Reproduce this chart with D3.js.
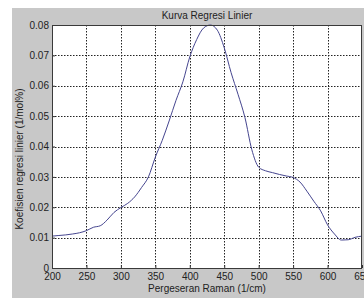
<!DOCTYPE html>
<html>
<head>
<meta charset="utf-8">
<script src="https://cdn.jsdelivr.net/npm/d3@7"></script>
<style>
  body { margin: 0; background: #fff; }
  svg { display: block; font-family: "Liberation Sans", Arial, sans-serif; }
</style>
</head>
<body>
<div id="chart"></div>
<script>
// Raman shift (1/cm) and regression coefficient
const shift = [200, 210, 220, 230, 240, 250, 260, 270, 280, 290,
  300, 310, 320, 330, 340, 350, 360, 370, 380, 390,
  400, 410, 420, 430, 440, 450, 460, 470, 480, 490,
  500, 510, 520, 530, 540, 550, 560, 570, 580, 590,
  600, 610, 620, 630, 640, 650];
const koef = [0.0105, 0.0107, 0.0109, 0.0112, 0.0116, 0.0123, 0.0134, 0.0139, 0.0158, 0.0183,
  0.0199, 0.0213, 0.0234, 0.0265, 0.0300, 0.0365, 0.0420, 0.0484, 0.0552, 0.0613,
  0.0695, 0.0752, 0.0790, 0.0800, 0.0783, 0.0725, 0.0643, 0.0572, 0.0496, 0.0390,
  0.0332, 0.0320, 0.0314, 0.0308, 0.0303, 0.0298, 0.0283, 0.0253, 0.0220, 0.0188,
  0.0142, 0.0112, 0.0092, 0.0093, 0.0101, 0.0105];
const xTicks = [200, 250, 300, 350, 400, 450, 500, 550, 600, 650];
const yTicks = [0, 0.01, 0.02, 0.03, 0.04, 0.05, 0.06, 0.07, 0.08];
const title = "Kurva Regresi Linier";
const xLabel = "Pergeseran Raman (1/cm)";
const yLabel = "Koefisien regresi linier (1/mol%)";

const width = 364, height = 298;
const m = {left: 52, top: 25, right: 362, bottom: 268};

const svg = d3.select("#chart").append("svg")
  .attr("width", width)
  .attr("height", height);

// grey figure background
svg.append("rect")
  .attr("x", 12).attr("y", 8)
  .attr("width", width - 12).attr("height", height - 8)
  .attr("fill", "#c8c8c8");

const x = d3.scaleLinear().domain([200, 650]).range([m.left, m.right]);
const y = d3.scaleLinear().domain([0, 0.08]).range([m.bottom, m.top]);

svg.append("rect")
  .attr("x", m.left).attr("y", m.top)
  .attr("width", m.right - m.left).attr("height", m.bottom - m.top)
  .attr("fill", "#fff");

// dotted grid
const grid = svg.append("g")
  .attr("stroke", "#222")
  .attr("stroke-width", 1)
  .attr("stroke-dasharray", "1.5,1.5");
grid.selectAll("line.v")
  .data(xTicks.slice(1, -1))
  .join("line")
  .attr("class", "v")
  .attr("x1", d => Math.round(x(d)) + 0.5).attr("x2", d => Math.round(x(d)) + 0.5)
  .attr("y1", m.top).attr("y2", m.bottom);
grid.selectAll("line.h")
  .data(yTicks.slice(1, -1))
  .join("line")
  .attr("class", "h")
  .attr("x1", m.left).attr("x2", m.right)
  .attr("y1", d => Math.round(y(d)) + 0.5).attr("y2", d => Math.round(y(d)) + 0.5);

// curve
const line = d3.line()
  .x((d, i) => x(shift[i]))
  .y(d => y(d))
  .curve(d3.curveMonotoneX);
svg.append("path")
  .datum(koef)
  .attr("fill", "none")
  .attr("stroke", "#45458f")
  .attr("stroke-width", 1)
  .attr("d", line);

// axes
const xAxis = svg.append("g")
  .attr("transform", `translate(0,${m.bottom})`)
  .call(d3.axisBottom(x).tickValues(xTicks).tickSize(-3).tickPadding(5).tickFormat(d3.format("d")));
const yAxis = svg.append("g")
  .attr("transform", `translate(${m.left},0)`)
  .call(d3.axisLeft(y).tickValues(yTicks).tickSize(-3).tickPadding(3)
    .tickFormat(d => d === 0 ? "0" : d3.format(".2f")(d)));
for (const g of [xAxis, yAxis]) {
  g.select(".domain").remove();
  g.selectAll("line").attr("stroke", "#333");
  g.selectAll("text")
    .attr("fill", "#222")
    .attr("font-size", 10)
    .attr("font-family", "Liberation Sans, Arial, sans-serif");
}

// box
svg.append("rect")
  .attr("x", m.left + 0.5).attr("y", m.top + 0.5)
  .attr("width", m.right - m.left - 1).attr("height", m.bottom - m.top)
  .attr("fill", "none")
  .attr("stroke", "#3a3a3a");

svg.append("text")
  .attr("x", (m.left + m.right) / 2).attr("y", 19)
  .attr("text-anchor", "middle")
  .attr("font-size", 10).attr("fill", "#222")
  .text(title);

svg.append("text")
  .attr("x", (m.left + m.right) / 2).attr("y", 292)
  .attr("text-anchor", "middle")
  .attr("font-size", 10).attr("fill", "#222")
  .text(xLabel);

svg.append("text")
  .attr("transform", "translate(23,159) rotate(-90)")
  .attr("text-anchor", "middle")
  .attr("font-size", 10).attr("fill", "#222")
  .text(yLabel);
</script>
</body>
</html>
